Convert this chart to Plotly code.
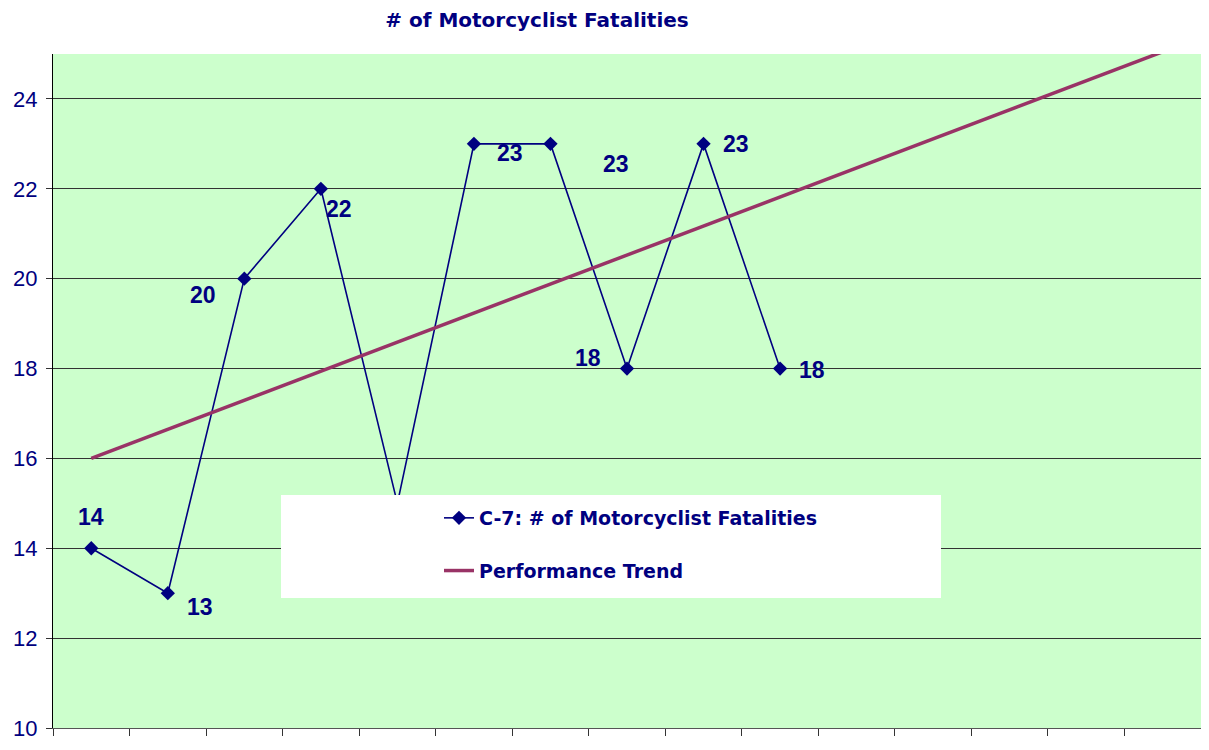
import plotly.graph_objects as go

# data
periods = [1, 2, 3, 4, 5, 6, 7, 8, 9, 10]
fatalities = [14, 13, 20, 22, 15, 23, 23, 18, 23, 18]
trend_periods = [1, 15]
trend_values = [16.0, 25.05]
y_ticks = [10, 12, 14, 16, 18, 20, 22, 24]

# label offsets (px) for each data label, None = hidden behind legend
label_shift = [(0, 31), (32, -14), (-41, -16), (18, -20), None,
               (36, -9), (66, -20), (-39, 11), (32, 0), (32, -1)]

NAVY = "#000080"
TREND = "#993366"
FONT = "Arial, Liberation Sans, sans-serif"
WIDE = "DejaVu Sans, Verdana, sans-serif"

# page has an 8px body margin, so the figure is sized to fit inside it
W, H = 1193, 734
L, T, B, R = 45, 46, 14, 0
PW, PH = W - L - R, H - T - B

fig = go.Figure()

fig.add_trace(go.Scatter(
    x=periods, y=fatalities, mode="lines+markers",
    name="C-7: # of Motorcyclist Fatalities",
    line={"color": NAVY, "width": 1.6},
    marker={"symbol": "diamond", "size": 11, "color": NAVY},
    legendgroup="a",
))
fig.add_trace(go.Scatter(
    x=trend_periods, y=trend_values, mode="lines",
    name="Performance Trend",
    line={"color": TREND, "width": 3.5},
    legendgroup="b",
))

for xv, yv, sh in zip(periods, fatalities, label_shift):
    if sh is None:
        continue
    fig.add_annotation(
        x=xv, y=yv, text=str(yv), showarrow=False,
        xshift=sh[0], yshift=sh[1],
        font={"family": FONT, "size": 23, "color": NAVY, "weight": "bold"},
    )

# white legend panel (page px -> paper coords)
fig.add_shape(
    type="rect", xref="paper", yref="paper",
    x0=(281 - 53) / PW, x1=(941 - 53) / PW,
    y0=(728 - 598) / PH, y1=(728 - 495) / PH,
    fillcolor="white", line={"width": 0}, layer="above",
)

fig.update_layout(
    width=W, height=H,
    margin={"l": L, "r": R, "t": T, "b": B},
    paper_bgcolor="white",
    plot_bgcolor="#CCFFCC",
    title={
        "text": "<b># of Motorcyclist Fatalities</b>",
        "x": (537 - 8) / W, "xanchor": "center",
        "y": 1 - 12 / H, "yanchor": "middle",
        "font": {"family": WIDE, "size": 20, "color": NAVY},
    },
    legend={
        "x": (439 - 53) / PW, "xanchor": "left",
        "y": (728 - 499) / PH, "yanchor": "top",
        "bgcolor": "rgba(0,0,0,0)",
        "font": {"family": WIDE, "size": 19, "color": NAVY, "weight": "bold"},
        "tracegroupgap": 25,
    },
    showlegend=True,
)

fig.update_xaxes(
    range=[0.5, 15.5],
    tickvals=[v + 0.5 for v in range(16)],
    showticklabels=False,
    ticks="outside", ticklen=7, tickcolor="#333333",
    showgrid=False, zeroline=False,
    showline=True, linecolor="#555555", linewidth=1,
)
fig.update_yaxes(
    range=[10, 25],
    tickvals=y_ticks,
    ticks="outside", ticklen=6, tickcolor="#333333",
    tickfont={"family": FONT, "size": 22, "color": NAVY},
    ticklabelstandoff=4,
    showgrid=True, gridcolor="#333333", gridwidth=1,
    zeroline=False,
    showline=True, linecolor="black", linewidth=1,
)

fig.write_html("out.html")
